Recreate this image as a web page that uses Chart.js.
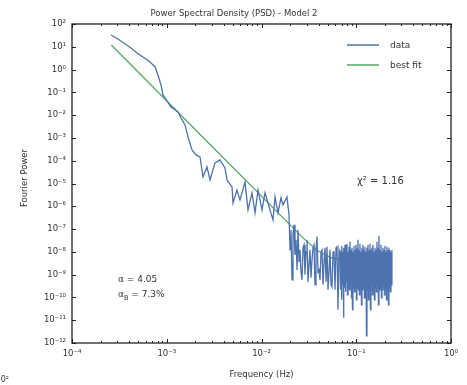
<!DOCTYPE html>
<html>
<head>
<meta charset="utf-8">
<script src="https://cdn.jsdelivr.net/npm/chart.js@4"></script>
<style>
  html, body { margin: 0; padding: 0; background: #fff; }
  canvas { display: block; filter: blur(0.4px); }
</style>
</head>
<body>
<canvas id="psd" width="467" height="385"></canvas>
<script>
// PSD - Model 2 : data periodogram + fitted power law with flat noise floor

const FONT = '"DejaVu Sans", sans-serif';

const freq = [
  // low frequencies, steep part
  2.58e-4, 3.06e-4, 3.63e-4, 4.19e-4, 4.85e-4, 5.61e-4, 6.66e-4, 7.52e-4, 8.08e-4, 8.70e-4,
  9.13e-4, 1.006e-3, 1.109e-3, 1.314e-3, 1.414e-3, 1.558e-3, 1.676e-3, 1.847e-3, 2.036e-3, 2.243e-3,
  2.413e-3, 2.659e-3, 2.861e-3, 3.230e-3, 3.648e-3, 4.119e-3, 4.324e-3, 4.884e-3, 5.003e-3, 5.513e-3,
  5.932e-3, 6.698e-3, 7.204e-3, 7.940e-3, 8.542e-3, 9.186e-3, 1.012e-2, 1.089e-2, 1.229e-2, 1.323e-2,
  1.388e-2, 1.493e-2, 1.606e-2, 1.686e-2, 1.858e-2,
  // knee
  1.951e-2, 2.0e-2, 2.048e-2, 2.099e-2, 2.150e-2, 2.203e-2, 2.257e-2, 2.313e-2, 2.370e-2, 2.428e-2,
  2.488e-2, 2.549e-2, 2.612e-2, 2.676e-2, 2.742e-2, 2.809e-2, 2.878e-2, 2.949e-2, 3.021e-2, 3.095e-2,
  3.172e-2, 3.250e-2, 3.330e-2, 3.412e-2, 3.496e-2, 3.582e-2, 3.670e-2, 3.760e-2, 3.853e-2, 3.948e-2,
  4.045e-2, 4.145e-2, 4.247e-2, 4.351e-2, 4.458e-2, 4.568e-2, 4.680e-2, 4.795e-2, 4.913e-2, 5.034e-2,
  5.158e-2, 5.285e-2, 5.415e-2, 5.548e-2, 5.684e-2, 5.824e-2, 5.967e-2, 6.114e-2, 6.264e-2, 6.418e-2,
  6.576e-2, 6.738e-2,
  // white-noise floor
  6.820e-2, 6.904e-2, 6.99e-2, 7.07e-2, 7.16e-2, 7.25e-2, 7.33e-2, 7.42e-2, 7.51e-2, 7.61e-2,
  7.70e-2, 7.79e-2, 7.89e-2, 7.98e-2, 8.08e-2, 8.18e-2, 8.28e-2, 8.38e-2, 8.48e-2, 8.59e-2,
  8.69e-2, 8.80e-2, 8.91e-2, 9.01e-2, 9.12e-2, 9.23e-2, 9.35e-2, 9.46e-2, 9.58e-2, 9.69e-2,
  9.81e-2, 9.93e-2, 0.1005, 0.1017, 0.1030, 0.1042, 0.1055, 0.1068, 0.1081, 0.1094,
  0.1108, 0.1121, 0.1135, 0.1149, 0.1163, 0.1177, 0.1191, 0.1206, 0.1220, 0.1235,
  0.1251, 0.1266, 0.1281, 0.1297, 0.1313, 0.1329, 0.1345, 0.1361, 0.1378, 0.1395,
  0.1412, 0.1429, 0.1447, 0.1464, 0.1482, 0.1500, 0.1519, 0.1537, 0.1556, 0.1575,
  0.1594, 0.1614, 0.1633, 0.1653, 0.1674, 0.1694, 0.1715, 0.1736, 0.1757, 0.1778,
  0.1800, 0.1822, 0.1845, 0.1867, 0.1890, 0.1913, 0.1937, 0.1960, 0.1984, 0.2008,
  0.2033, 0.2057, 0.2083, 0.2108, 0.2134, 0.2160, 0.2187, 0.2213, 0.2240, 0.2267,
  0.2295, 0.2323, 0.2352, 0.2380
];

const power = [
  32.9, 22.0, 13.3, 8.86, 5.35, 3.57, 2.15, 1.30, 0.580, 0.211,
  0.0769, 0.0420, 0.0229, 0.0138, 7.54e-3, 3.72e-3, 1.106e-3, 2.98e-4, 1.80e-4, 1.47e-4,
  1.95e-5, 5.35e-5, 1.44e-5, 8.01e-5, 1.08e-4, 4.83e-5, 1.44e-5, 7.10e-6, 1.41e-6, 5.24e-6,
  1.91e-6, 1.18e-5, 6.95e-7, 3.87e-6, 5.13e-7, 5.24e-6, 6.95e-7, 3.87e-6, 6.95e-7, 2.53e-7,
  2.58e-6, 5.13e-7, 2.34e-6, 1.15e-6, 2.58e-6,

  4.20e-7, 1.22e-8, 9.22e-8, 5.91e-10, 5.57e-8, 1.53e-7, 7.38e-9, 3.36e-8, 1.62e-9, 9.22e-8,
  3.64e-9, 1.22e-8, 1.33e-9, 5.91e-10, 1.50e-8, 2.03e-8, 9.80e-10, 1.0e-8, 3.36e-8, 4.83e-10,
  2.69e-9, 1.22e-8, 7.24e-10, 4.46e-9, 1.50e-8, 2.03e-8, 3.57e-10, 1.22e-8, 4.55e-8, 1.33e-9,
  1.62e-9, 5.91e-10, 1.0e-8, 1.22e-8, 3.57e-10, 3.64e-9, 1.50e-8, 4.83e-10, 1.66e-8, 2.15e-10,
  1.33e-9, 1.22e-8, 3.57e-10, 2.92e-10, 1.0e-8, 1.0e-8, 2.15e-10, 1.50e-8, 1.66e-8, 2.86e-11,
  1.22e-8, 7.38e-9,

  2.15e-10, 1.22e-8, 7.85e-11, 1.83e-8, 3.57e-10, 1.0e-8, 1.27e-11, 1.50e-8, 2.64e-10, 2.03e-8,
  1.76e-10, 1.22e-8, 4.83e-10, 2.24e-8, 1.30e-10, 1.0e-8, 2.64e-10, 1.66e-8, 2.15e-10, 2.75e-8,
  3.57e-10, 1.22e-8, 9.61e-11, 1.50e-8, 2.86e-11, 1.0e-8, 2.64e-10, 1.83e-8, 1.76e-10, 1.22e-8,
  3.57e-10, 2.03e-8, 7.85e-11, 1.50e-8, 2.64e-10, 3.36e-8, 2.15e-10, 1.22e-8, 1.30e-10, 2.24e-8,
  3.57e-10, 1.0e-8, 4.74e-11, 1.50e-8, 2.15e-10, 2.03e-8, 2.64e-10, 1.22e-8, 9.61e-11, 1.66e-8,
  1.76e-10, 1.0e-8, 2.07e-12, 1.50e-8, 2.15e-10, 2.03e-8, 7.85e-11, 1.22e-8, 2.64e-10, 2.24e-8,
  2.86e-11, 1.22e-8, 3.57e-10, 1.50e-8, 1.30e-10, 2.03e-8, 2.15e-10, 1.0e-8, 7.85e-11, 1.50e-8,
  2.64e-10, 1.22e-8, 1.76e-10, 2.75e-8, 3.57e-10, 1.50e-8, 4.74e-11, 5.03e-8, 2.15e-10, 1.22e-8,
  2.64e-10, 2.03e-8, 9.61e-11, 1.0e-8, 2.15e-10, 1.50e-8, 3.57e-10, 1.22e-8, 1.30e-10, 1.83e-8,
  2.64e-10, 1.0e-8, 7.85e-11, 1.66e-8, 2.15e-10, 1.22e-8, 4.74e-11, 1.50e-8, 2.64e-10, 1.22e-8,
  1.76e-10, 1.0e-8, 3.57e-10, 1.22e-8
];

const fitFreq  = [2.6e-4, 2.37e-2, 2.81e-2, 3.41e-2, 3.95e-2, 4.68e-2, 5.55e-2, 6.74e-2, 8.59e-2, 0.238];
const fitPower = [12.0, 7.54e-8, 3.72e-8, 1.83e-8, 1.11e-8, 7.38e-9, 5.46e-9, 4.69e-9, 4.46e-9, 4.46e-9];

const xTicks = [1e-4, 1e-3, 1e-2, 1e-1, 1];
const xTickLabels = ['10\u207B\u2074', '10\u207B\u00B3', '10\u207B\u00B2', '10\u207B\u00B9', '10\u2070'];
const yTicks = [1e-12, 1e-11, 1e-10, 1e-9, 1e-8, 1e-7, 1e-6, 1e-5, 1e-4, 1e-3, 1e-2, 1e-1, 1, 1e1, 1e2];
const yTickLabels = [
  '10\u207B\u00B9\u00B2', '10\u207B\u00B9\u00B9', '10\u207B\u00B9\u2070', '10\u207B\u2079', '10\u207B\u2078',
  '10\u207B\u2077', '10\u207B\u2076', '10\u207B\u2075', '10\u207B\u2074', '10\u207B\u00B3',
  '10\u207B\u00B2', '10\u207B\u00B9', '10\u2070', '10\u00B9', '10\u00B2'
];

const DATA_COLOR = '#4c72b0';
const FIT_COLOR = '#55a868';

// frame, inward ticks, titles, legend and annotations (matplotlib look)
const decorations = {
  id: 'decorations',
  afterDraw(chart) {
    const { ctx, chartArea: a, scales: { x, y } } = chart;
    ctx.save();

    // ticks pointing inwards on all four sides
    ctx.strokeStyle = '#222';
    ctx.lineWidth = 1;
    const tickX = (v, len) => {
      const px = Math.round(x.getPixelForValue(v)) + 0.5;
      ctx.beginPath();
      ctx.moveTo(px, a.bottom); ctx.lineTo(px, a.bottom - len);
      ctx.moveTo(px, a.top); ctx.lineTo(px, a.top + len);
      ctx.stroke();
    };
    xTicks.forEach(v => tickX(v, 4));
    xTicks.slice(0, -1).forEach(d => {
      for (let k = 2; k <= 9; k++) tickX(d * k, 2);
    });
    yTicks.forEach(v => {
      const py = Math.round(y.getPixelForValue(v)) + 0.5;
      ctx.beginPath();
      ctx.moveTo(a.left, py); ctx.lineTo(a.left + 4, py);
      ctx.moveTo(a.right, py); ctx.lineTo(a.right - 4, py);
      ctx.stroke();
    });

    // axes box
    ctx.lineWidth = 1.3;
    ctx.strokeRect(a.left, a.top, a.right - a.left, a.bottom - a.top);

    // title (centred on the figure) and axis labels
    ctx.fillStyle = '#333';
    ctx.textAlign = 'center';
    ctx.textBaseline = 'middle';
    ctx.font = '8.5px ' + FONT;
    ctx.fillText('Power Spectral Density (PSD) - Model 2', 234, 14);
    ctx.fillText('Frequency (Hz)', (a.left + a.right) / 2, 375);
    ctx.save();
    ctx.translate(25, 178);
    ctx.rotate(-Math.PI / 2);
    ctx.fillText('Fourier Power', 0, 0);
    ctx.restore();

    // clipped label from the neighbouring panel
    ctx.textAlign = 'right';
    ctx.font = '8px ' + FONT;
    ctx.fillText('10\u00B2', 9, 380);

    // legend
    const legend = [['data', DATA_COLOR, 45], ['best fit', FIT_COLOR, 65]];
    ctx.textAlign = 'left';
    ctx.font = '9px ' + FONT;
    legend.forEach(([label, color, ly]) => {
      ctx.strokeStyle = color;
      ctx.lineWidth = 1.5;
      ctx.beginPath();
      ctx.moveTo(347, ly); ctx.lineTo(379, ly);
      ctx.stroke();
      ctx.fillStyle = '#333';
      ctx.fillText(label, 390, ly + 1);
    });

    // fit annotations
    ctx.fillStyle = '#333';
    ctx.font = '10px ' + FONT;
    ctx.fillText('\u03C7\u00B2 = 1.16', 357, 181);
    ctx.font = '9px ' + FONT;
    ctx.fillText('\u03B1 = 4.05', 118, 280);
    ctx.fillText('\u03B1', 118, 295);
    const aw = ctx.measureText('\u03B1').width;
    ctx.font = '6.5px ' + FONT;
    ctx.fillText('B', 118 + aw, 298);
    const bw = ctx.measureText('B').width;
    ctx.font = '9px ' + FONT;
    ctx.fillText(' = 7.3%', 118 + aw + bw, 295);

    ctx.restore();
  }
};

new Chart(document.getElementById('psd'), {
  type: 'line',
  data: {
    datasets: [
      {
        label: 'data',
        data: freq.map((f, i) => ({ x: f, y: power[i] })),
        borderColor: DATA_COLOR,
        borderWidth: 1.3,
        pointRadius: 0,
        tension: 0,
      },
      {
        label: 'best fit',
        data: fitFreq.map((f, i) => ({ x: f, y: fitPower[i] })),
        borderColor: FIT_COLOR,
        borderWidth: 1.3,
        pointRadius: 0,
        tension: 0.3,
      },
    ],
  },
  options: {
    responsive: false,
    animation: false,
    devicePixelRatio: 1,
    layout: { padding: { top: 24, right: 16, bottom: 0, left: 0 } },
    plugins: { legend: { display: false }, tooltip: { enabled: false } },
    scales: {
      x: {
        type: 'logarithmic', min: 1e-4, max: 1,
        afterBuildTicks: s => { s.ticks = xTicks.map(v => ({ value: v })); },
        afterFit: s => { s.height = 42; },
        grid: { display: false, drawTicks: false },
        border: { display: false },
        ticks: {
          autoSkip: false, maxRotation: 0, padding: 6, color: '#333',
          font: { family: FONT, size: 8.5 },
          callback: (v, i) => xTickLabels[i],
        },
      },
      y: {
        type: 'logarithmic', min: 1e-12, max: 1e2,
        afterBuildTicks: s => { s.ticks = yTicks.map(v => ({ value: v })); },
        afterFit: s => { s.width = 72; },
        grid: { display: false, drawTicks: false },
        border: { display: false },
        ticks: {
          autoSkip: false, padding: 6, color: '#333',
          font: { family: FONT, size: 8.5 },
          callback: (v, i) => yTickLabels[i],
        },
      },
    },
  },
  plugins: [decorations],
});
</script>
</body>
</html>
